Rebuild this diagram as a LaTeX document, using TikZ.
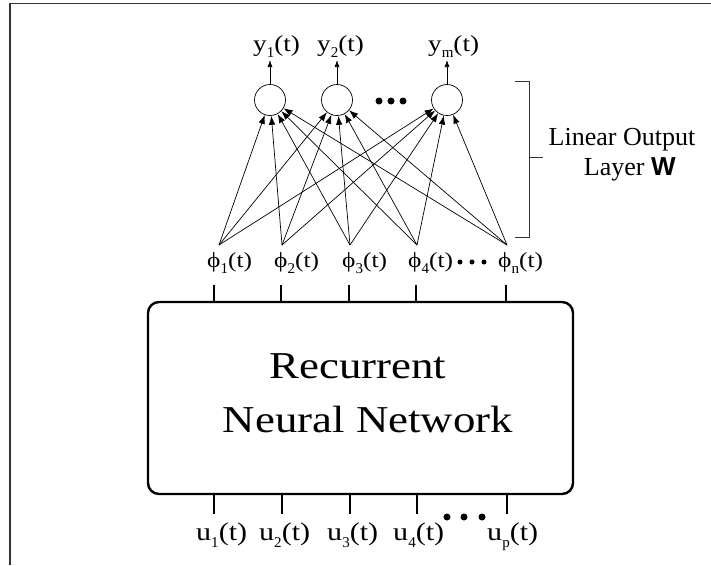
\documentclass[tikz,border=0pt]{standalone}
\usepackage{graphicx}
\usepackage{fontspec}
\setmainfont{Liberation Serif}
\setsansfont{Liberation Sans}
\usetikzlibrary{arrows.meta}
\newcommand\sbs[1]{\raisebox{-0.3em}{\scalebox{0.85}[1]{\fontsize{15}{15}\selectfont #1}}}
\newcommand\wide[1]{\scalebox{1.18}[1]{#1}}
\tikzset{
  neuron/.style={circle,draw,line width=0.7pt,minimum size=31pt,inner sep=0pt},
  lbl/.style={inner sep=0pt,anchor=base west,font=\fontsize{23}{23}\selectfont},
  flbl/.style={inner sep=0pt,anchor=base west,font=\fontsize{21.5}{21.5}\selectfont},
  ulbl/.style={inner sep=0pt,anchor=base west,font=\fontsize{25.5}{25.5}\selectfont},
  bigtxt/.style={inner sep=0pt,anchor=base,font=\fontsize{38}{38}\selectfont},
  conn/.style={line width=0.7pt,-{Latex[length=9pt,width=6.5pt]}},
  outarr/.style={line width=0.7pt,-{Latex[length=7pt,width=5pt]}},
  tick/.style={line width=2.2pt},
  bigdot/.style={circle,fill,inner sep=0pt,minimum size=7pt},
  smalldot/.style={circle,fill,inner sep=0pt,minimum size=5pt},
}
\begin{document}
\begin{tikzpicture}[x=1pt,y=-1pt]
\useasboundingbox (0,0) rectangle (711,565);
% frame
\draw[line width=1.4pt,black!80] (10,565) -- (10,3.5) -- (711,3.5);
% output neurons
\node[neuron] (n1) at (270,100) {};
\node[neuron] (n2) at (337,100) {};
\node[neuron] (n3) at (447,100) {};
\node[bigdot] (d1) at (379,101) {};
\node[bigdot] (d2) at (391,101) {};
\node[bigdot] (d3) at (403,101) {};
% output labels
\node[lbl] (y1) at (253,51) {\wide{y\sbs{1}(t)}};
\node[lbl] (y2) at (317,51) {\wide{y\sbs{2}(t)}};
\node[lbl] (ym) at (428,51) {\wide{y\sbs{m}(t)}};
\coordinate (o1) at (270,60);
\coordinate (o2) at (337,60);
\coordinate (o3) at (447,60);
\draw[outarr] (n1.north) -- (o1);
\draw[outarr] (n2.north) -- (o2);
\draw[outarr] (n3.north) -- (o3);
% phi apexes
\coordinate (p1) at (219,245);
\coordinate (p2) at (282,245);
\coordinate (p3) at (350,245);
\coordinate (p4) at (417,245);
\coordinate (p5) at (507,245);
\foreach \p in {p1,p2,p3,p4,p5}
  \foreach \n in {n1,n2,n3}
    \draw[conn] (\p) -- (\n);
% phi labels
\node[flbl] (f1) at (207,267) {\wide{ϕ\sbs{1}(t)}};
\node[flbl] (f2) at (274,267) {\wide{ϕ\sbs{2}(t)}};
\node[flbl] (f3) at (342,267) {\wide{ϕ\sbs{3}(t)}};
\node[flbl] (f4) at (408,267) {\wide{ϕ\sbs{4}(t)}};
\node[flbl] (f5) at (498,267) {\wide{ϕ\sbs{n}(t)}};
\node[smalldot] (e1) at (460,262) {};
\node[smalldot] (e2) at (472,262) {};
\node[smalldot] (e3) at (484,262) {};
% box
\node[draw,line width=2.4pt,rounded corners=11pt,minimum width=425pt,minimum height=192pt,inner sep=0pt] (rnn) at (360.5,398) {};
\node[bigtxt] (t1) at (358,378) {\wide{Recurrent}};
\node[bigtxt] (t2) at (368,432) {\wide{Neural Network}};
% top ticks
\foreach \x in {214,281,349,416,506}
  \draw[tick] (\x,285) -- (\x,302);
% bottom ticks
\foreach \x in {214,282,350,417,507}
  \draw[tick] (\x,494) -- (\x,514);
% input labels
\node[ulbl] (u1) at (196,540) {\wide{u\sbs{1}(t)}};
\node[ulbl] (u2) at (259,540) {\wide{u\sbs{2}(t)}};
\node[ulbl] (u3) at (327,540) {\wide{u\sbs{3}(t)}};
\node[ulbl] (u4) at (393,540) {\wide{u\sbs{4}(t)}};
\node[ulbl] (up) at (487,540) {\wide{u\sbs{p}(t)}};
\node[bigdot] (g1) at (447,517) {};
\node[bigdot] (g2) at (464,517) {};
\node[bigdot] (g3) at (482,517) {};
% bracket
\coordinate (b1) at (515,81);
\coordinate (b2) at (529,81);
\coordinate (b3) at (529,237);
\coordinate (b4) at (515,237);
\coordinate (bm) at (529,157);
\coordinate (bn) at (543,157);
\draw[line width=0.9pt,black!80] (b1) -- (b2) -- (b3) -- (b4);
\draw[line width=0.9pt,black!80] (bm) -- (bn);
\node[inner sep=0pt,align=center,font=\fontsize{26}{30}\selectfont] (lw) at (622,155) {Linear Output\\\hspace*{0.6em}Layer {\sffamily\bfseries W}};
\end{tikzpicture}
\end{document}
